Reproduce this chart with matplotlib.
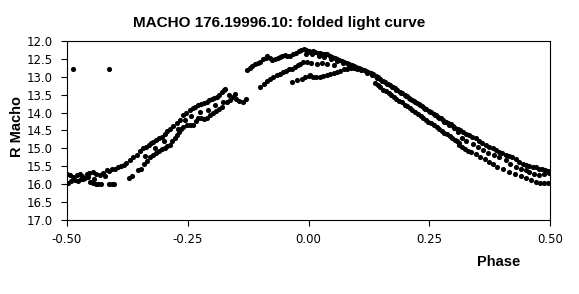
import matplotlib
matplotlib.use("Agg")
import matplotlib.pyplot as plt
import numpy as np

# --- data (phase, R magnitude) ---
rise_upper_phase = [-0.500, -0.493, -0.487, -0.480, -0.474, -0.468, -0.463, -0.458, -0.455, -0.446,
                    -0.440, -0.432, -0.425, -0.418, -0.412, -0.406, -0.400, -0.394, -0.389, -0.383,
                    -0.377, -0.370, -0.363, -0.356, -0.349, -0.342, -0.336, -0.331, -0.326, -0.322,
                    -0.316, -0.310, -0.304, -0.298, -0.292, -0.286, -0.280, -0.273, -0.267, -0.260,
                    -0.253, -0.246, -0.240, -0.234, -0.228, -0.222, -0.216, -0.211, -0.205, -0.200,
                    -0.195, -0.190, -0.185, -0.180, -0.176, -0.172]
rise_upper_mag = [15.70, 15.74, 15.80, 15.74, 15.70, 15.78, 15.83, 15.72, 15.69, 15.65,
                  15.70, 15.74, 15.69, 15.60, 15.62, 15.58, 15.56, 15.52, 15.50, 15.46,
                  15.40, 15.32, 15.25, 15.18, 15.08, 15.00, 14.95, 14.90, 14.86, 14.81,
                  14.76, 14.72, 14.67, 14.60, 14.52, 14.45, 14.38, 14.30, 14.20, 14.07,
                  14.00, 13.93, 13.88, 13.84, 13.79, 13.76, 13.73, 13.70, 13.66, 13.62,
                  13.59, 13.56, 13.50, 13.44, 13.37, 13.34]

rise_lower_phase = [-0.498, -0.491, -0.484, -0.477, -0.470, -0.466, -0.452, -0.446, -0.440, -0.435,
                    -0.430, -0.412, -0.407, -0.402, -0.372, -0.366, -0.352, -0.347, -0.340, -0.334,
                    -0.329, -0.322, -0.316, -0.310, -0.304, -0.298, -0.292, -0.287, -0.282, -0.277,
                    -0.273, -0.268, -0.264, -0.260, -0.252, -0.245, -0.239, -0.233, -0.228, -0.222,
                    -0.216, -0.211, -0.204, -0.197, -0.191, -0.185, -0.180, -0.169, -0.162, -0.156,
                    -0.150, -0.143, -0.136, -0.130]
rise_lower_mag = [15.95, 15.91, 15.88, 15.92, 15.86, 15.86, 15.93, 15.95, 15.98, 16.00,
                  15.98, 15.98, 16.00, 15.98, 15.82, 15.78, 15.60, 15.56, 15.44, 15.34,
                  15.24, 15.18, 15.12, 15.08, 15.02, 14.98, 14.94, 14.90, 14.80, 14.70,
                  14.63, 14.54, 14.46, 14.39, 14.36, 14.36, 14.34, 14.24, 14.16, 14.16,
                  14.18, 14.15, 14.08, 14.02, 13.96, 13.90, 13.84, 13.71, 13.64, 13.57,
                  13.62, 13.68, 13.71, 13.62]

# scattered points between the two rising rows
rise_scatter_phase = [-0.456, -0.444, -0.421, -0.338, -0.318, -0.300, -0.270, -0.256, -0.243, -0.225,
                      -0.208, -0.193, -0.177, -0.165, -0.153]
rise_scatter_mag = [15.80, 15.85, 15.76, 15.20, 14.98, 14.80, 14.46, 14.22, 14.10, 13.98,
                    13.92, 13.80, 13.70, 13.52, 13.48]

peak_upper_phase = [-0.128, -0.122, -0.116, -0.110, -0.105, -0.100, -0.094, -0.089, -0.085, -0.080,
                    -0.075, -0.070, -0.064, -0.059, -0.054, -0.049, -0.044, -0.038, -0.032, -0.026,
                    -0.020, -0.015, -0.010, -0.005, 0.000, 0.004, 0.009, 0.014, 0.019, 0.024,
                    0.029, 0.034, 0.039, 0.044, 0.049, 0.054, 0.059, 0.064, 0.069, 0.074,
                    0.079, 0.084, 0.089, 0.094, 0.099, 0.104, 0.109, 0.114, 0.119, 0.124,
                    0.129, 0.134, 0.139, 0.144, 0.149, 0.154, 0.159, 0.164, 0.169, 0.174,
                    0.179, 0.184, 0.189, 0.194, 0.199, 0.204, 0.209, 0.214, 0.219, 0.224,
                    0.229, 0.234, 0.239, 0.244, 0.249, 0.254, 0.259, 0.264, 0.269, 0.274,
                    0.279, 0.284, 0.289, 0.294, 0.299, 0.304, 0.309, 0.314]
peak_upper_mag = [12.82, 12.76, 12.70, 12.66, 12.62, 12.58, 12.52, 12.47, 12.44, 12.48,
                  12.54, 12.52, 12.48, 12.46, 12.44, 12.41, 12.44, 12.42, 12.38, 12.34,
                  12.30, 12.26, 12.22, 12.26, 12.30, 12.31, 12.29, 12.32, 12.33, 12.35,
                  12.36, 12.37, 12.38, 12.42, 12.46, 12.49, 12.52, 12.55, 12.57, 12.60,
                  12.62, 12.65, 12.68, 12.70, 12.73, 12.76, 12.79, 12.81, 12.83, 12.86,
                  12.90, 12.94, 12.98, 13.02, 13.07, 13.11, 13.15, 13.20, 13.24, 13.29,
                  13.33, 13.38, 13.42, 13.46, 13.51, 13.55, 13.60, 13.64, 13.68, 13.73,
                  13.77, 13.81, 13.86, 13.90, 13.95, 13.99, 14.03, 14.08, 14.12, 14.16,
                  14.21, 14.25, 14.29, 14.33, 14.38, 14.42, 14.46, 14.50]

# second, slightly fainter row that thickens the descending band
fall_upper2_phase = [-0.006, 0.008, 0.021, 0.033, 0.046, 0.058, 0.071, 0.083, 0.096, 0.108,
                     0.121, 0.131, 0.141, 0.152, 0.162, 0.172, 0.181, 0.191, 0.201, 0.211,
                     0.221, 0.231, 0.241, 0.251, 0.261, 0.271, 0.281, 0.291, 0.301, 0.309]
fall_upper2_mag = [12.36, 12.38, 12.42, 12.45, 12.50, 12.57, 12.63, 12.70, 12.75, 12.82,
                   12.89, 12.96, 13.04, 13.12, 13.20, 13.30, 13.37, 13.45, 13.55, 13.63,
                   13.72, 13.80, 13.90, 13.98, 14.07, 14.16, 14.25, 14.34, 14.44, 14.54]

peak_mid_phase = [-0.100, -0.092, -0.086, -0.080, -0.073, -0.066, -0.059, -0.052, -0.046, -0.040,
                  -0.034, -0.028, -0.022, -0.017, -0.011, -0.004, 0.006, 0.017, 0.028, 0.038, 0.052]
peak_mid_mag = [13.29, 13.20, 13.12, 13.06, 13.00, 12.95, 12.92, 12.88, 12.84, 12.80,
                12.78, 12.72, 12.68, 12.66, 12.59, 12.60, 12.62, 12.64, 12.62, 12.64, 12.67]

peak_lower_phase = [-0.034, -0.024, -0.014, -0.008, 0.000, 0.004, 0.010, 0.016, 0.024, 0.031,
                    0.038, 0.045, 0.052, 0.059, 0.066, 0.073, 0.080, 0.087, 0.094, 0.100]
peak_lower_mag = [13.15, 13.10, 13.06, 13.02, 12.98, 12.96, 13.00, 13.02, 13.01, 12.98,
                  12.95, 12.92, 12.89, 12.86, 12.83, 12.80, 12.78, 12.76, 12.77, 12.78]

fall_lower_phase = [0.138, 0.143, 0.149, 0.155, 0.160, 0.166, 0.171, 0.177, 0.182, 0.188,
                    0.193, 0.199, 0.204, 0.210, 0.215, 0.221, 0.226, 0.232, 0.237, 0.243,
                    0.248, 0.254, 0.259, 0.265, 0.270, 0.276, 0.281, 0.287, 0.292, 0.298,
                    0.303, 0.308, 0.312]
fall_lower_mag = [13.18, 13.24, 13.30, 13.36, 13.41, 13.46, 13.51, 13.57, 13.62, 13.67,
                  13.72, 13.78, 13.83, 13.88, 13.93, 13.99, 14.04, 14.09, 14.14, 14.20,
                  14.25, 14.30, 14.35, 14.40, 14.46, 14.51, 14.56, 14.61, 14.66, 14.71,
                  14.76, 14.80, 14.86]

tail_upper_phase = [0.320, 0.326, 0.332, 0.339, 0.346, 0.353, 0.360, 0.367, 0.374, 0.381,
                    0.388, 0.395, 0.401, 0.408, 0.415, 0.422, 0.429, 0.436, 0.443, 0.450,
                    0.457, 0.464, 0.471, 0.478, 0.484, 0.490, 0.496, 0.500]
tail_upper_mag = [14.55, 14.60, 14.63, 14.68, 14.72, 14.80, 14.86, 14.90, 14.95, 15.00,
                  15.05, 15.10, 15.14, 15.18, 15.20, 15.23, 15.30, 15.37, 15.42, 15.46,
                  15.49, 15.51, 15.53, 15.56, 15.58, 15.60, 15.63, 15.66]

tail_mid_phase = [0.318, 0.325, 0.340, 0.350, 0.362, 0.372, 0.384, 0.395, 0.408, 0.418,
                  0.429, 0.440, 0.450, 0.457, 0.467, 0.477, 0.487, 0.498]
tail_mid_mag = [14.70, 14.80, 14.88, 14.96, 15.05, 15.12, 15.18, 15.24, 15.32, 15.42,
                15.51, 15.56, 15.60, 15.65, 15.70, 15.74, 15.72, 15.69]

tail_lower_phase = [0.311, 0.318, 0.324, 0.330, 0.336, 0.346, 0.356, 0.365, 0.374, 0.382,
                    0.391, 0.403, 0.415, 0.428, 0.440, 0.450, 0.460, 0.471, 0.480, 0.488, 0.496]
tail_lower_mag = [14.90, 14.96, 15.02, 15.06, 15.09, 15.16, 15.23, 15.30, 15.37, 15.44,
                  15.51, 15.58, 15.65, 15.72, 15.78, 15.83, 15.88, 15.93, 15.95, 15.97, 15.96]

outlier_phase = [-0.488, -0.413]
outlier_mag = [12.80, 12.80]

x_ticks = [-0.50, -0.25, 0.00, 0.25, 0.50]
y_ticks = [12.0, 12.5, 13.0, 13.5, 14.0, 14.5, 15.0, 15.5, 16.0, 16.5, 17.0]

phase = np.concatenate([rise_upper_phase, rise_lower_phase, rise_scatter_phase, peak_upper_phase,
                        fall_upper2_phase, peak_mid_phase, peak_lower_phase, fall_lower_phase,
                        tail_upper_phase, tail_mid_phase, tail_lower_phase, outlier_phase])
mag = np.concatenate([rise_upper_mag, rise_lower_mag, rise_scatter_mag, peak_upper_mag,
                      fall_upper2_mag, peak_mid_mag, peak_lower_mag, fall_lower_mag,
                      tail_upper_mag, tail_mid_mag, tail_lower_mag, outlier_mag])

# --- figure ---
fig = plt.figure(figsize=(5.79, 2.94), dpi=100)
ax = fig.add_axes([0.1157, 0.2507, 0.8343, 0.6109])

ax.plot(phase, mag, "o", color="black", markersize=3.7, markeredgewidth=0)

ax.set_xlim(-0.5, 0.5)
ax.set_ylim(17.0, 12.0)
ax.set_xticks(x_ticks)
ax.set_xticklabels([f"{t:.2f}" for t in x_ticks])
ax.set_yticks(y_ticks)
ax.set_yticklabels([f"{t:.1f}" for t in y_ticks])
ax.tick_params(direction="out", length=4, width=0.8, labelsize=8.5, color="black")
ax.tick_params(axis="y", pad=6)
ax.tick_params(axis="x", pad=5)
for lab in ax.get_xticklabels() + ax.get_yticklabels():
    lab.set_family("DejaVu Sans")

for s in ax.spines.values():
    s.set_linewidth(0.8)
    s.set_color("black")

fig.text(279 / 579, 1 - 22.5 / 294, "MACHO 176.19996.10: folded light curve",
         ha="center", va="center", fontsize=11, fontweight="bold", family="Liberation Sans")
fig.text(499 / 579, 1 - 262 / 294, "Phase", ha="center", va="center",
         fontsize=10.5, fontweight="bold", family="Liberation Sans")
fig.text(17 / 579, 1 - 127 / 294, "R Macho", ha="center", va="center", rotation=90,
         fontsize=10.5, fontweight="bold", family="Liberation Sans")

fig.savefig("out.png", dpi=100)
